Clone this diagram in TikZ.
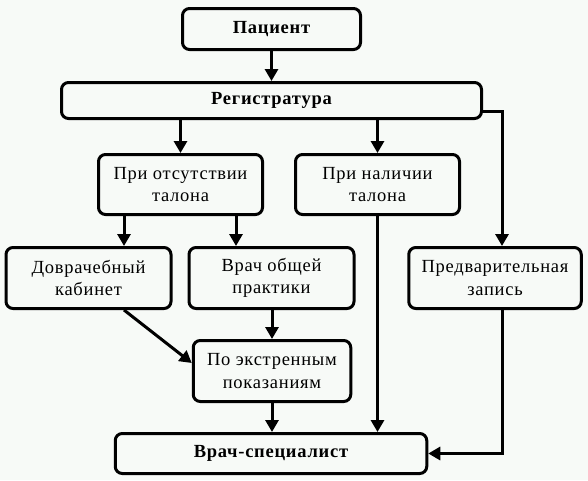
\documentclass[tikz,border=0pt]{standalone}
\usepackage{fontspec}
\setmainfont{Liberation Serif}[LetterSpace=4]
\usetikzlibrary{arrows.meta}
\definecolor{bg}{RGB}{247,250,247}
\begin{document}
\begin{tikzpicture}[x=1pt,y=-1pt,
  box/.style={draw, line width=3pt, rounded corners=7pt, align=center,
    font=\fontsize{18.5}{22.5}\selectfont, inner sep=0pt},
  bbox/.style={box, font=\fontsize{18.5}{22.5}\selectfont\bfseries},
  arr/.style={line width=3pt, -{Triangle[length=12pt,width=13pt]}}]
\fill[bg] (0,0) rectangle (588,480);
\useasboundingbox (0,0) rectangle (588,480);
\node[bbox, minimum width=178pt, minimum height=41pt] (pac) at (271.5,29) {Пациент};
\node[bbox, minimum width=420pt, minimum height=36pt] (reg) at (271.5,100.5) {Регистратура};
\node[box, minimum width=164pt, minimum height=60pt] (ots) at (180.5,184.5) {При отсутствии\\талона};
\node[box, minimum width=164pt, minimum height=60pt] (nal) at (377.5,184.5) {При наличии\\талона};
\node[box, minimum width=165pt, minimum height=61pt] (dov) at (88.5,278) {Доврачебный\\кабинет};
\node[box, minimum width=165pt, minimum height=61pt] (vop) at (271.5,278) {Врач общей\\практики};
\node[box, minimum width=172.5pt, minimum height=61pt] (pred) at (495,278) {Предварительная\\запись};
\node[box, minimum width=157.5pt, minimum height=61pt] (pok) at (272,371) {По экстренным\\показаниям};
\node[bbox, minimum width=311.5pt, minimum height=40pt] (spec) at (271,453.5) {Врач-специалист};
\draw[arr] (pac) -- (reg);
\draw[arr] (reg.south -| ots.north) -- (ots.north);
\draw[arr] (reg.south -| nal.north) -- (nal.north);
\draw[arr] ([yshift=-10.5pt]reg.east) -| ([xshift=7pt]pred.north);
\draw[arr] ([xshift=-56.5pt]ots.south) -- ([xshift=-56.5pt]ots.south |- dov.north);
\draw[arr] ([xshift=55.5pt]ots.south) -- ([xshift=55.5pt]ots.south |- vop.north);
\draw[arr] (vop.south -| pok.north) -- (pok.north);
\draw[arr] (pok) -- (pok.south |- spec.north);
\draw[arr] (nal.south) -- (nal.south |- spec.north);
\draw[arr] ([xshift=7pt]pred.south) |- (spec.east);
\draw[arr] ([xshift=35.5pt]dov.south) -- ([yshift=8pt]pok.west);
\end{tikzpicture}
\end{document}
